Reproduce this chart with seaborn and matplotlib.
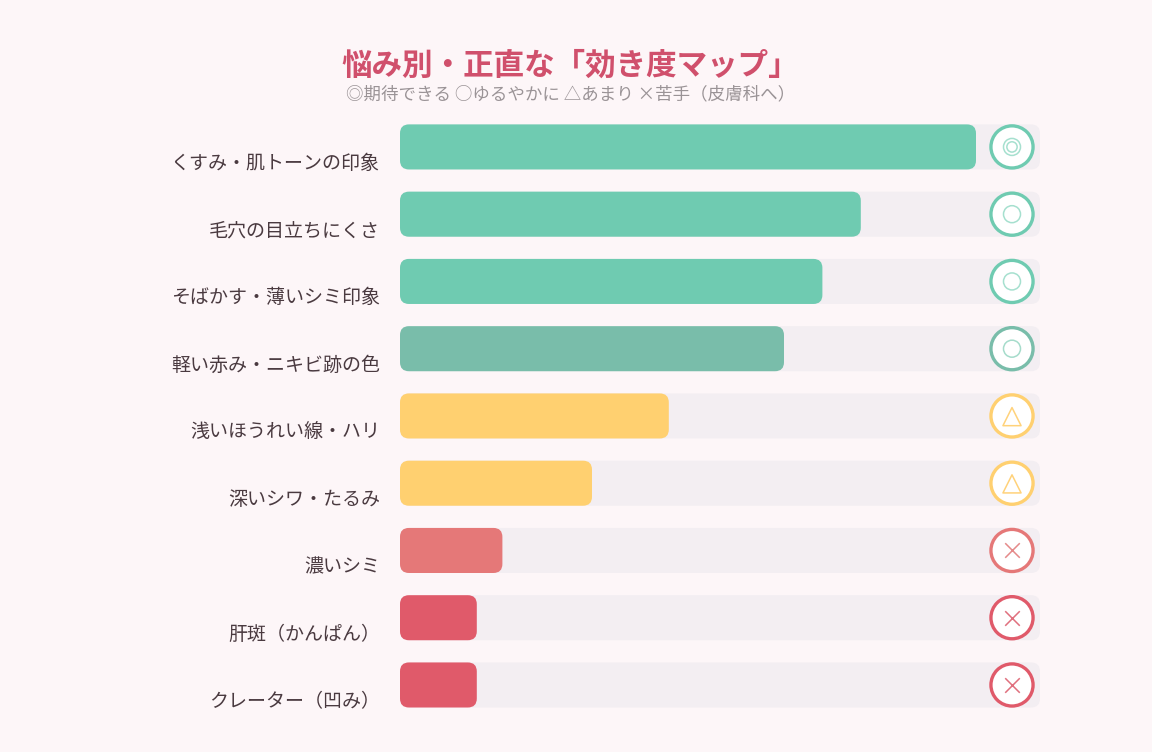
import numpy as np
import pandas as pd
import matplotlib
matplotlib.use("Agg")
import matplotlib.pyplot as plt
import seaborn as sns
from matplotlib.patches import FancyBboxPatch
from matplotlib.transforms import ScaledTranslation

# data
concerns = ["くすみ・肌トーンの印象", "毛穴の目立ちにくさ", "そばかす・薄いシミ印象",
            "軽い赤み・ニキビ跡の色", "浅いほうれい線・ハリ", "深いシワ・たるみ",
            "濃いシミ", "肝斑（かんぱん）", "クレーター（凹み）"]
scores = [90, 72, 66, 60, 42, 30, 16, 12, 12]
grades = ["◎", "○", "○", "○", "△", "△", "×", "×", "×"]
bar_colors = ["#6FCBB1", "#6FCBB1", "#6FCBB1", "#79BDAA", "#FFD070",
              "#FFD070", "#E57878", "#E05A6A", "#E05A6A"]
full_scale = 100

title = "悩み別・正直な「効き度マップ」"
subtitle = "◎期待できる ○ゆるやかに △あまり ×苦手（皮膚科へ）"

BG = "#FDF6F8"
TRACK = "#F3EEF2"

df = pd.DataFrame({"concern": concerns, "score": scores, "grade": grades})
df["full"] = full_scale

sns.set_theme(style="white")
plt.rcParams["font.family"] = ["Noto Sans CJK JP", "DejaVu Sans"]

fig = plt.figure(figsize=(11.52, 7.52), dpi=100, facecolor=BG)
ax_h_px = 605.3
ax = fig.add_axes([400 / 1152, 1 - 718.6 / 752, 640 / 1152, ax_h_px / 752])
ax.set_facecolor(BG)

# track + value bars
sns.barplot(data=df, x="full", y="concern", color=TRACK, saturation=1,
            width=0.67, ax=ax)
sns.barplot(data=df, x="score", y="concern", hue="concern", palette=bar_colors,
            saturation=1, legend=False, width=0.67, ax=ax)

n = len(concerns)
ax.set_xlim(0, full_scale)
ax.set_ylim(n - 0.5, -0.5)

# swap rectangles for rounded boxes
ax_w_px = 640
x_per_px = full_scale / ax_w_px
y_per_px = n / ax_h_px
rad_px = 9
for p in list(ax.patches):
    x, y = p.get_x(), p.get_y()
    w, h = p.get_width(), p.get_height()
    fc = p.get_facecolor()
    p.remove()
    box = FancyBboxPatch((x, y), w, h,
                         boxstyle=f"round,pad=0,rounding_size={rad_px * x_per_px}",
                         mutation_aspect=y_per_px / x_per_px,
                         facecolor=fc, edgecolor="none", zorder=2)
    ax.add_patch(box)

# badges
badge_x = full_scale - 28 * x_per_px
ypos = np.arange(n)
ax.scatter([badge_x] * n, ypos, s=920, facecolor="white",
           edgecolor=bar_colors, linewidth=2.4, zorder=4)
inner = {"#6FCBB1": "#A6E0CF", "#79BDAA": "#A6DCCB", "#FFD070": "#FFD27A",
         "#E57878": "#E58A8A", "#E05A6A": "#E0707E"}
for i, g in enumerate(grades):
    c = inner[bar_colors[i]]
    if g == "◎":
        ax.scatter(badge_x, i, s=150, facecolor="none", edgecolor=c, linewidth=1.1, zorder=5)
        ax.scatter(badge_x, i, s=55, facecolor="none", edgecolor=c, linewidth=1.1, zorder=5)
    elif g == "○":
        ax.scatter(badge_x, i, s=150, facecolor="none", edgecolor=c, linewidth=1.1, zorder=5)
    elif g == "△":
        ax.scatter(badge_x, i + 0.01, s=170, marker="^", facecolor="none", edgecolor=c,
                   linewidth=1.1, zorder=5)
    else:
        ax.scatter(badge_x, i, s=110, marker="x", color=c, linewidth=1.1, zorder=5)
ax.set_ylim(n - 0.5, -0.5)

# axes cosmetics
ax.set_xlabel("")
ax.set_ylabel("")
ax.set_xticks([])
for s in ax.spines.values():
    s.set_visible(False)
ax.tick_params(axis="y", length=0, pad=14.5, labelsize=13.7, labelcolor="#4A3A40")
offset = ScaledTranslation(0, -14 / 100, fig.dpi_scale_trans)
for lab in ax.get_yticklabels():
    lab.set_transform(lab.get_transform() + offset)

fig.text(570 / 1152, 1 - 66 / 752, title, ha="center", va="center",
         fontsize=22, fontweight="bold", color="#D0506C")
fig.text(571 / 1152, 1 - 94 / 752, subtitle, ha="center", va="center",
         fontsize=12.6, color="#9A9396")

fig.savefig("out.png", dpi=100, facecolor=BG)
